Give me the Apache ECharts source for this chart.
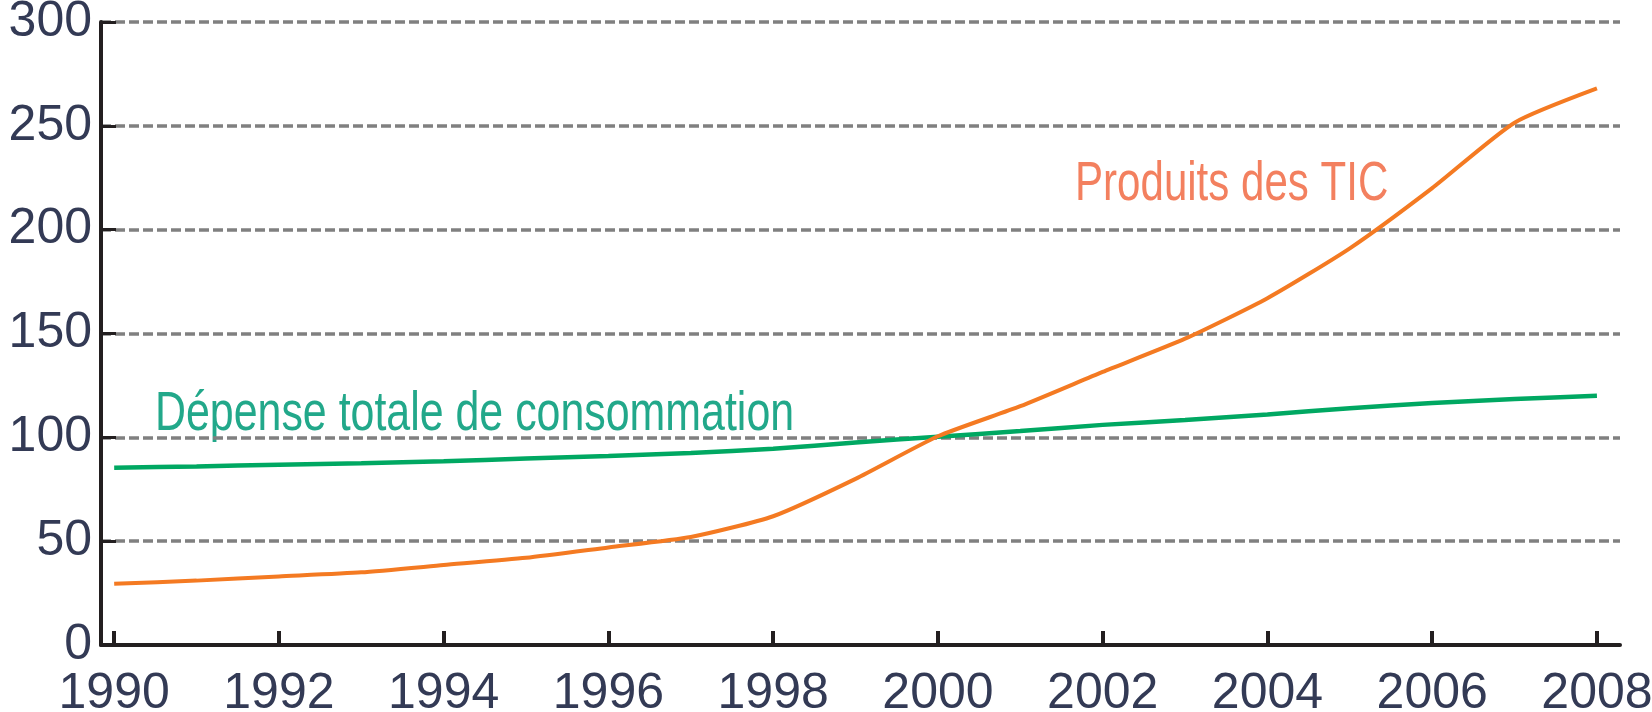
<!DOCTYPE html>
<html>
<head>
<meta charset="utf-8">
<script src="https://cdn.jsdelivr.net/npm/echarts@6/dist/echarts.min.js"></script>
<style>
  html, body { margin: 0; padding: 0; background: #fff; }
  #chart { width: 1652px; height: 712px; }
</style>
</head>
<body>
<div id="chart"></div>
<script>
var years = [1990, 1991, 1992, 1993, 1994, 1995, 1996, 1997, 1998, 1999,
             2000, 2001, 2002, 2003, 2004, 2005, 2006, 2007, 2008]
// Dépense totale de consommation (indice)
var depense = [85.4, 86, 86.8, 87.5, 88.5, 89.8, 91, 92.5, 94.5, 97.5,
               100.3, 103, 106, 108.3, 111, 114, 116.5, 118.5, 120]
// Produits des TIC (indice)
var tic = [29.5, 31, 33, 35, 38.5, 42, 47, 52, 62, 80,
           100.5, 115, 131.5, 147.5, 167, 191, 220, 251.5, 268]
var xTicks = [1990, 1992, 1994, 1996, 1998, 2000, 2002, 2004, 2006, 2008]

var labelFont = '"Liberation Sans", Arial, sans-serif'
var labelColor = '#333a55'

function pairs(vals) {
    var out = []
    for (var i = 0; i < years.length; i++) {
        out.push([years[i], vals[i]])
    }
    return out
}

var myChart = echarts.init(document.getElementById('chart'))

var option = {
    backgroundColor: '#fff',
    animation: false,
    grid: {
        left: 101,
        right: 32,
        top: 22,
        bottom: 67,
        containLabel: false,
        outerBoundsMode: 'none'
    },
    xAxis: {
        type: 'value',
        min: 1989.84,
        max: 2008.28,
        axisLine: { show: true, lineStyle: { color: '#231f20', width: 4 } },
        axisTick: {
            show: true,
            inside: true,
            length: 14,
            customValues: xTicks,
            lineStyle: { color: '#231f20', width: 4 }
        },
        axisLabel: {
            customValues: xTicks,
            margin: 24,
            color: labelColor,
            fontFamily: labelFont,
            fontSize: 50,
            hideOverlap: false,
            formatter: function (v) { return String(v) }
        },
        splitLine: { show: false }
    },
    yAxis: {
        type: 'value',
        min: 0,
        max: 300,
        interval: 50,
        axisLine: { show: true, lineStyle: { color: '#231f20', width: 4 } },
        axisTick: {
            show: true,
            inside: true,
            length: 15,
            lineStyle: { color: '#231f20', width: 3 }
        },
        axisLabel: {
            margin: 9,
            color: labelColor,
            fontFamily: labelFont,
            fontSize: 50
        },
        splitLine: {
            show: true,
            lineStyle: { color: '#808080', width: 3.5, type: [10, 4] }
        }
    },
    series: [
        {
            name: 'Dépense totale de consommation',
            type: 'line',
            data: pairs(depense),
            showSymbol: false,
            smooth: 0.2,
            lineStyle: { color: '#00a862', width: 4.5 },
            z: 3
        },
        {
            name: 'Produits des TIC',
            type: 'line',
            data: pairs(tic),
            showSymbol: false,
            smooth: 0.2,
            lineStyle: { color: '#f47a22', width: 4 },
            z: 4
        }
    ],
    graphic: [
        {
            type: 'text',
            x: 155,
            y: 387,
            scaleX: 0.78,
            style: {
                text: 'Dépense totale de consommation',
                fill: '#22a88a',
                font: '55px ' + labelFont,
                textVerticalAlign: 'top'
            }
        },
        {
            type: 'text',
            x: 1075,
            y: 157,
            scaleX: 0.765,
            style: {
                text: 'Produits des TIC',
                fill: '#f3805f',
                font: '55px ' + labelFont,
                textVerticalAlign: 'top'
            }
        }
    ]
}

myChart.setOption(option)
</script>
</body>
</html>
